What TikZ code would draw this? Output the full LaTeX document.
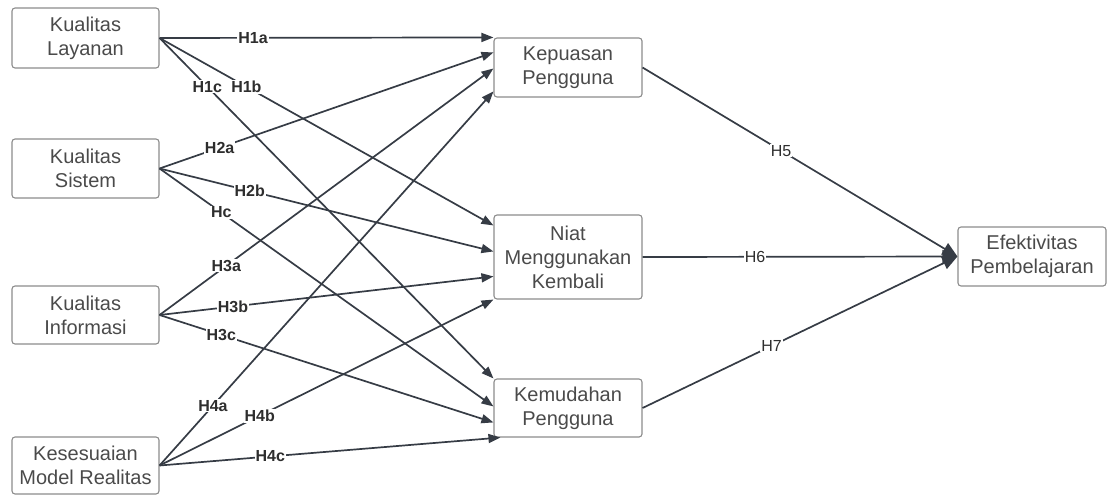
\documentclass[tikz,border=0pt]{standalone}
\usepackage{fontspec}
\setmainfont{Liberation Sans}
\usetikzlibrary{arrows.meta,calc}
\definecolor{edge}{HTML}{363C45}
\definecolor{boxline}{HTML}{8C8C8C}
\definecolor{txt}{HTML}{4A4A4A}
\definecolor{lbltxt}{HTML}{2E2E2E}
\begin{document}
\begin{tikzpicture}[x=1pt,y=-1pt,
  box/.style={draw=boxline, line width=1.1pt, rounded corners=3pt, minimum width=147pt,
    text=txt, font=\fontsize{20}{24}\selectfont, align=center, inner sep=0pt},
  conn/.style={draw=edge, line width=1.7pt, -{Triangle[length=12pt,width=9pt]}},
  bigconn/.style={draw=edge, line width=1.7pt, -{Triangle[length=15pt,width=13pt]}},
  lbl/.style={fill=white, inner sep=1pt, text=lbltxt, font=\fontsize{16}{16}\selectfont\bfseries},
  lblr/.style={fill=white, inner sep=1pt, text=lbltxt, font=\fontsize{16}{16}\selectfont},
]
\useasboundingbox (0,0) rectangle (1108,495);

% left column
\node[box, minimum height=60pt] (L1) at (85.5,38) {Kualitas\\Layanan};
\node[box, minimum height=59pt] (L2) at (85.5,168.5) {Kualitas\\Sistem};
\node[box, minimum height=58pt] (L3) at (85.5,315) {Kualitas\\Informasi};
\node[box, minimum height=57pt] (L4) at (85.5,465.5) {Kesesuaian\\Model Realitas};

% middle column
\node[box, minimum width=148pt, minimum height=59pt] (M1) at (568,67.5) {Kepuasan\\Pengguna};
\node[box, minimum width=148pt, minimum height=84pt] (M2) at (568,257) {Niat\\Menggunakan\\Kembali};
\node[box, minimum width=148pt, minimum height=58pt] (M3) at (568,408) {Kemudahan\\Pengguna};

% right
\node[box, minimum width=148pt, minimum height=59pt] (R) at (1032,256.5) {Efektivitas\\Pembelajaran};

% connectors from Kualitas Layanan
\draw[conn] (L1.east) -- node[lbl,pos=0.28]{H1a} (M1.north west);
\draw[conn] (L1.east) -- node[lbl,pos=0.26]{H1b} ($(M2.north west)+(0,11)$);
\draw[conn] (L1.east) -- node[lbl,pos=0.143]{H1c} (M3.north west);

% from Kualitas Sistem
\draw[conn] (L2.east) -- node[lbl,pos=0.18]{H2a} ($(M1.north west)+(0,15)$);
\draw[conn] (L2.east) -- node[lbl,pos=0.27]{H2b} ($(M2.north west)+(0,37)$);
\draw[conn] (L2.east) -- node[lbl,pos=0.185]{Hc} ($(M3.north west)+(0,28)$);

% from Kualitas Informasi
\draw[conn] (L3.east) -- node[lbl,pos=0.2]{H3a} ($(M1.north west)+(0,31)$);
\draw[conn] (L3.east) -- node[lbl,pos=0.22]{H3b} ($(M2.north west)+(0,62)$);
\draw[conn] (L3.east) -- node[lbl,pos=0.185]{H3c} ($(M3.north west)+(0,44)$);

% from Kesesuaian Model Realitas
\draw[conn] (L4.east) -- node[lbl,pos=0.16]{H4a} ($(M1.north west)+(0,54)$);
\draw[conn] (L4.east) -- node[lbl,pos=0.3]{H4b} (M2.south west);
\draw[conn] (L4.east) -- node[lbl,pos=0.325]{H4c} ($(M3.south west)+(7,0)$);

% to Efektivitas Pembelajaran
\draw[bigconn] (M1.east) -- node[lblr,pos=0.44]{H5} (R.west);
\draw[bigconn] (M2.east) -- node[lblr,pos=0.357]{H6} (R.west);
\draw[bigconn] (M3.east) -- node[lblr,pos=0.41]{H7} (R.west);
\end{tikzpicture}
\end{document}
